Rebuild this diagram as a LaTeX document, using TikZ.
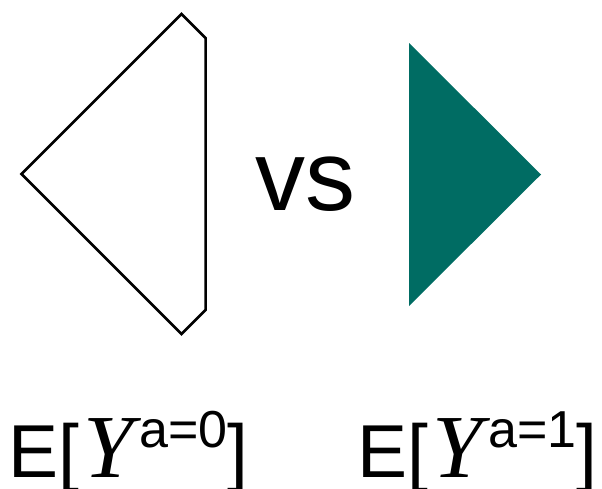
\documentclass[tikz,border=0pt]{standalone}
\usepackage{fontspec}
\setmainfont{Liberation Sans}
\newfontfamily\yfont{Liberation Serif}
\definecolor{tealfill}{RGB}{0,108,99}
\tikzset{
  outlineshape/.style={draw=black, line width=2.5pt, fill=white},
  filledshape/.style={fill=tealfill, draw=none},
  bigtext/.style={inner sep=0pt, font=\fontsize{100}{100}\selectfont},
  labeltext/.style={inner sep=0pt, anchor=base west, font=\fontsize{75}{75}\selectfont}
}
\newcommand{\explabel}[1]{E[\hspace{4pt}{\yfont\itshape\fontsize{90}{90}\selectfont Y}\hspace{6pt}\raisebox{30pt}{\fontsize{52}{52}\selectfont a=#1}]}
\begin{document}
\begin{tikzpicture}[x=1pt,y=-1pt]
\useasboundingbox (0,0) rectangle (602,488);
\draw[outlineshape] (21.5,174) -- (181.5,14) -- (205.5,38) -- (205.5,310) -- (181.5,334) -- cycle;
\fill[filledshape] (409,43) -- (541,174.5) -- (409,306) -- cycle;
\node[bigtext, anchor=base] (vs) at (305,210) {vs};
\node[labeltext] (l0) at (8,477) {\explabel{0}};
\node[labeltext] (l1) at (357,477) {\explabel{1}};
\end{tikzpicture}
\end{document}
